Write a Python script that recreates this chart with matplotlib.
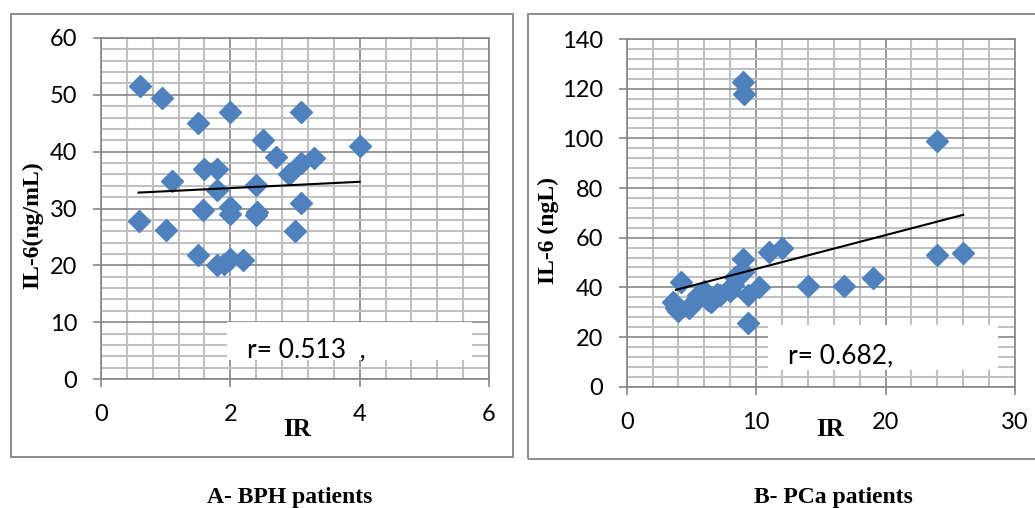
import matplotlib
matplotlib.use("Agg")
import matplotlib.pyplot as plt
from matplotlib.patches import Rectangle
from matplotlib.ticker import MultipleLocator

# ---------------- data ----------------
bph_ir = [0.6, 0.95, 1.5, 2.0, 3.1, 2.5, 4.0, 2.7, 3.3, 3.1, 1.6, 1.8, 2.9, 1.1, 2.4,
          1.8, 2.0, 1.57, 2.0, 2.42, 2.4, 3.1, 0.58, 1.0, 3.0, 1.5, 1.8, 1.9, 2.0, 2.2]
bph_il6 = [51.6, 49.4, 45.0, 47.0, 47.0, 42.1, 41.0, 39.0, 38.8, 38.0, 37.0, 37.0, 36.0, 34.8, 34.1,
           33.2, 30.3, 29.7, 29.0, 29.3, 28.8, 31.0, 27.8, 26.3, 26.0, 21.8, 20.1, 20.3, 21.2, 21.0]
bph_trend_x = [0.58, 4.0]
bph_trend_y = [32.8, 34.7]

pca_ir = [3.6, 3.8, 4.0, 4.2, 4.8, 5.0, 5.4, 5.5, 6.0, 6.3, 6.5, 7.0, 7.2, 8.0, 8.2, 8.4,
          8.6, 9.0, 9.0, 9.1, 9.0, 9.35, 9.35, 10.2, 11.0, 12.0, 14.0, 16.8, 19.0, 24.0, 24.0, 26.0]
pca_il6 = [34.0, 31.5, 30.5, 42.3, 31.5, 33.0, 35.5, 37.0, 38.5, 35.0, 34.0, 37.5, 37.0, 38.5, 41.0, 44.0,
           45.0, 46.0, 51.3, 118.0, 122.5, 37.0, 25.5, 40.3, 54.3, 56.0, 40.6, 40.6, 43.7, 99.0, 53.0, 53.7]
pca_trend_x = [3.8, 26.0]
pca_trend_y = [39.0, 69.2]

bph_xticks = [0, 2, 4, 6]
bph_yticks = [0, 10, 20, 30, 40, 50, 60]
pca_xticks = [0, 10, 20, 30]
pca_yticks = [0, 20, 40, 60, 80, 100, 120, 140]

r_texts = ["r= 0.513  ,", "r= 0.682,"]
ylabels = ["IL-6(ng/mL)", "IL-6 (ngL)"]
captions = ["A- BPH patients", "B- PCa patients"]

# ---------------- style ----------------
W, H = 1035, 508
fig = plt.figure(figsize=(W / 100, H / 100), dpi=100)
MARK = "#4F81BD"
MAJ = "#868686"
MIN = "#C0C0C0"
TICKFONT = "Lato"
SERIF = "Liberation Serif"


def fx(px):
    return px / W


def fy(py):
    return 1 - py / H


# outer chart boxes
for (x0, y0, x1, y1) in [(11, 14, 513, 457), (528, 14, 1040, 459)]:
    fig.add_artist(Rectangle((fx(x0), fy(y1)), fx(x1 - x0), (y1 - y0) / H,
                             transform=fig.transFigure, fill=False,
                             edgecolor="#8C8C8C", lw=1.4, zorder=0))


def setup(ax, xt, yt, xminor, yminor, xmax, ymax):
    ax.set_xlim(0, xmax)
    ax.set_ylim(0, ymax)
    ax.set_xticks(xt)
    ax.set_yticks(yt)
    ax.xaxis.set_minor_locator(MultipleLocator(xminor))
    ax.yaxis.set_minor_locator(MultipleLocator(yminor))
    ax.grid(which="minor", color=MIN, lw=1.5, zorder=0)
    ax.grid(which="major", color=MAJ, lw=1.2, zorder=0.5)
    ax.set_axisbelow(True)
    for s in ax.spines.values():
        s.set_color(MAJ)
        s.set_linewidth(1.2)
    ax.tick_params(which="major", length=6, width=1.2, color=MAJ, labelsize=17)
    ax.tick_params(which="minor", length=0)
    ax.tick_params(axis="x", pad=12)
    ax.tick_params(axis="y", pad=11)
    for lab in ax.get_xticklabels() + ax.get_yticklabels():
        lab.set_fontfamily(TICKFONT)


# left panel
axA = fig.add_axes([fx(101), fy(379), fx(489 - 101), (379 - 38) / H])
setup(axA, bph_xticks, bph_yticks, 0.4, 2, 6, 60)
axA.add_artist(Rectangle((fx(227), fy(360)), fx(472 - 227), (360 - 322) / H,
                         transform=fig.transFigure, facecolor="white", edgecolor="none", zorder=1))
axA.plot(bph_ir, bph_il6, linestyle="none", marker="D", ms=11, color=MARK, zorder=3)
axA.plot(bph_trend_x, bph_trend_y, color="black", lw=1.5, zorder=4)

# right panel
axB = fig.add_axes([fx(626.7), fy(386.7), fx(1015 - 626.7), (386.7 - 39) / H])
setup(axB, pca_xticks, pca_yticks, 2, 4, 30, 140)
axB.add_artist(Rectangle((fx(768), fy(370)), fx(998 - 768), (370 - 325) / H,
                         transform=fig.transFigure, facecolor="white", edgecolor="none", zorder=1))
axB.plot(pca_ir, pca_il6, linestyle="none", marker="D", ms=11, color=MARK, zorder=3)
axB.plot(pca_trend_x, pca_trend_y, color="black", lw=1.5, zorder=4)

# r texts
fig.text(fx(247), fy(357), r_texts[0], fontsize=19, family=TICKFONT, va="baseline", ha="left")
fig.text(fx(788), fy(363), r_texts[1], fontsize=19, family=TICKFONT, va="baseline", ha="left")

# axis labels
fig.text(fx(33), fy(225), ylabels[0], rotation=90, fontsize=17, family=SERIF,
         weight="bold", ha="center", va="center")
fig.text(fx(548), fy(230), ylabels[1], rotation=90, fontsize=17, family=SERIF,
         weight="bold", ha="center", va="center")
fig.text(fx(297), fy(430), "IR", fontsize=18, family=SERIF, weight="bold", ha="center", va="center")
fig.text(fx(830), fy(430), "IR", fontsize=18, family=SERIF, weight="bold", ha="center", va="center")

# captions
fig.text(fx(290), fy(498), captions[0], fontsize=17, family=SERIF, weight="bold",
         ha="center", va="center")
fig.text(fx(833), fy(498), captions[1], fontsize=17, family=SERIF, weight="bold",
         ha="center", va="center")

fig.savefig("out.png", dpi=100)
